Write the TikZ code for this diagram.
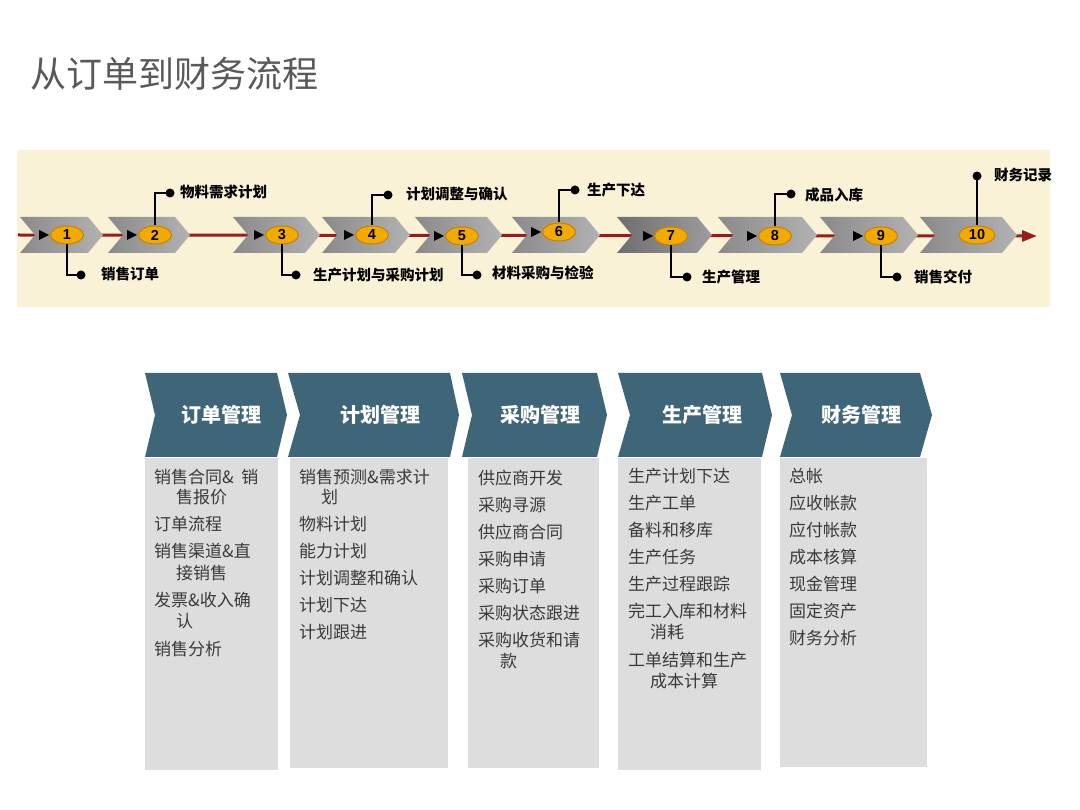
\documentclass[tikz,border=0pt]{standalone}
\usepackage{fontspec}
\setmainfont{Noto Sans CJK SC}
\newfontfamily\numfont{Liberation Sans}
\usetikzlibrary{shapes.geometric,arrows.meta}
\definecolor{band}{HTML}{FAF2D6}
\definecolor{redline}{HTML}{9A1B1B}
\definecolor{chevL}{HTML}{8A8A8A}
\definecolor{chevR}{HTML}{B2B2B2}
\definecolor{chevLd}{HTML}{6E6E6E}
\definecolor{chevRd}{HTML}{9C9C9C}
\definecolor{ovalfill}{HTML}{F2A900}
\definecolor{ovalline}{HTML}{C98200}
\definecolor{teal}{HTML}{3F6579}
\definecolor{bodygray}{HTML}{DDDDDD}
\definecolor{bodytext}{HTML}{3A3A3A}
\definecolor{titlegray}{HTML}{595959}
\begin{document}
\begin{tikzpicture}[x=1pt,y=-1pt,
  oval/.style={ellipse,draw=ovalline,line width=1pt,fill=ovalfill,minimum width=33pt,minimum height=18pt,inner sep=0pt,font=\numfont\bfseries\fontsize{14.5}{14.5}\selectfont},
  lbl/.style={anchor=west,inner sep=0pt,font=\bfseries\fontsize{14.5}{15}\selectfont},
  callout/.style={line width=1.8pt,black},
  hdtxt/.style={text=white,inner sep=0pt,font=\bfseries\fontsize{20}{22}\selectfont},
  item/.style={anchor=west,inner sep=0pt,text=bodytext,font=\fontsize{17}{18}\selectfont},
  chevshade/.style={left color=chevL,right color=chevR},
  chevdark/.style={left color=chevLd,right color=chevRd}]
\useasboundingbox (0,0) rectangle (1080,810);
\fill[white] (0,0) rectangle (1080,810);

% title
\node[anchor=west,inner sep=0pt,text=titlegray,font=\fontsize{36}{38}\selectfont] (title) at (30,74) {从订单到财务流程};

% band
\fill[band] (17,150) rectangle (1050,307);

% red timeline
\coordinate (rs) at (18,235);
\coordinate (re) at (1037,236);
\draw[redline,line width=3pt,-{Triangle[length=15pt,width=11pt]}] (rs) -- (re);

% chevrons
\foreach \L/\R/\s in {20/103/chevshade,108/190/chevshade,233/320/chevshade,322/410/chevshade,415/502/chevshade,512/600/chevshade,617/712/chevdark,718/817/chevshade,820/918/chevshade,920/1017/chevshade}{
  \path[\s] (\L,217) -- (\R-15,217) -- (\R,235) -- (\R-15,253) -- (\L,253) -- (\L+15,235) -- cycle;
}

% ovals
\node[oval] (o1) at (67,235) {1};
\node[oval] (o2) at (155,235) {2};
\node[oval] (o3) at (282,235) {3};
\node[oval] (o4) at (372,235) {4};
\node[oval] (o5) at (462,236) {5};
\node[oval] (o6) at (559,232) {6};
\node[oval] (o7) at (671,236) {7};
\node[oval] (o8) at (775,236) {8};
\node[oval] (o9) at (881,236) {9};
\node[oval,minimum width=36pt] (o10) at (977,235) {10};

% small black arrowheads
\foreach \o in {o1,o2,o3,o4,o5,o6,o7,o8,o9}{
  \fill[black] ([xshift=-1pt]\o.west) -- ++(-10,-5) -- ++(0,10) -- cycle;
}

% callout coordinates
\coordinate (d1) at (81,275);
\coordinate (d2) at (170,193);
\coordinate (d3) at (296,275);
\coordinate (d4) at (388,195);
\coordinate (d5) at (477,275);
\coordinate (d6) at (575,190);
\coordinate (d7) at (687,277);
\coordinate (d8) at (791,194);
\coordinate (d9) at (897,277);
\coordinate (d10) at (977,176);

\draw[callout] (o1.south) |- (d1);
\draw[callout] (o2.north) |- (d2);
\draw[callout] (o3.south) |- (d3);
\draw[callout] (o4.north) |- (d4);
\draw[callout] (o5.south) |- (d5);
\draw[callout] (o6.north) |- (d6);
\draw[callout] (o7.south) |- (d7);
\draw[callout] (o8.north) |- (d8);
\draw[callout] (o9.south) |- (d9);
\draw[callout] (o10.north) -- (d10);
\foreach \d in {d1,d2,d3,d4,d5,d6,d7,d8,d9,d10}{\fill[black] (\d) circle (4.5pt);}

\node[lbl] (l1) at (101,274) {销售订单};
\node[lbl] (l2) at (180,192) {物料需求计划};
\node[lbl] (l3) at (313,275) {生产计划与采购计划};
\node[lbl] (l4) at (406,194) {计划调整与确认};
\node[lbl] (l5) at (492,273) {材料采购与检验};
\node[lbl] (l6) at (587,190) {生产下达};
\node[lbl] (l7) at (702,277) {生产管理};
\node[lbl] (l8) at (805,195) {成品入库};
\node[lbl] (l9) at (914,277) {销售交付};
\node[lbl] (l10) at (994,175) {财务记录};

% bottom columns: bodies
\fill[bodygray] (145,458) rectangle (278,770);
\fill[bodygray] (290,458) rectangle (448,768);
\fill[bodygray] (468,458) rectangle (599,768);
\fill[bodygray] (618,458) rectangle (761,770);
\fill[bodygray] (780,458) rectangle (927,767);

% headers
\foreach \L/\N/\R/\P in {145/155/277/287,288/300/450/459,462/472/597/607,618/630/762/772,780/792/920/932}{
  \fill[teal] (\L,373) -- (\R,373) -- (\P,415) -- (\R,457) -- (\L,457) -- (\N,415) -- cycle;
}
\node[hdtxt] (h1) at (221,415) {订单管理};
\node[hdtxt] (h2) at (380,415) {计划管理};
\node[hdtxt] (h3) at (540,415) {采购管理};
\node[hdtxt] (h4) at (702,415) {生产管理};
\node[hdtxt] (h5) at (861,415) {财务管理};

% column 1
\node[item] (a1) at (154,477) {销售合同\&\ \ 销};
\node[item] (a1b) at (176,497) {售报价};
\node[item] (a2) at (154,524) {订单流程};
\node[item] (a3) at (154,551) {销售渠道\&直};
\node[item] (a3b) at (176,573) {接销售};
\node[item] (a4) at (154,600) {发票\&收入确};
\node[item] (a4b) at (176,621) {认};
\node[item] (a5) at (154,649) {销售分析};

% column 2
\node[item] (b1) at (299,477) {销售预测\&需求计};
\node[item] (b1b) at (321,497) {划};
\node[item] (b2) at (299,524) {物料计划};
\node[item] (b3) at (299,551) {能力计划};
\node[item] (b4) at (299,578) {计划调整和确认};
\node[item] (b5) at (299,605) {计划下达};
\node[item] (b6) at (299,632) {计划跟进};

% column 3
\node[item] (c1) at (478,478) {供应商开发};
\node[item] (c2) at (478,505) {采购寻源};
\node[item] (c3) at (478,532) {供应商合同};
\node[item] (c4) at (478,559) {采购申请};
\node[item] (c5) at (478,586) {采购订单};
\node[item] (c6) at (478,613) {采购状态跟进};
\node[item] (c7) at (478,640) {采购收货和请};
\node[item] (c7b) at (500,661) {款};

% column 4
\node[item] (e1) at (628,476) {生产计划下达};
\node[item] (e2) at (628,503) {生产工单};
\node[item] (e3) at (628,530) {备料和移库};
\node[item] (e4) at (628,557) {生产任务};
\node[item] (e5) at (628,584) {生产过程跟踪};
\node[item] (e6) at (628,611) {完工入库和材料};
\node[item] (e6b) at (650,632) {消耗};
\node[item] (e7) at (628,660) {工单结算和生产};
\node[item] (e7b) at (650,681) {成本计算};

% column 5
\node[item] (f1) at (789,476) {总帐};
\node[item] (f2) at (789,503) {应收帐款};
\node[item] (f3) at (789,530) {应付帐款};
\node[item] (f4) at (789,557) {成本核算};
\node[item] (f5) at (789,584) {现金管理};
\node[item] (f6) at (789,611) {固定资产};
\node[item] (f7) at (789,638) {财务分析};
\end{tikzpicture}
\end{document}
